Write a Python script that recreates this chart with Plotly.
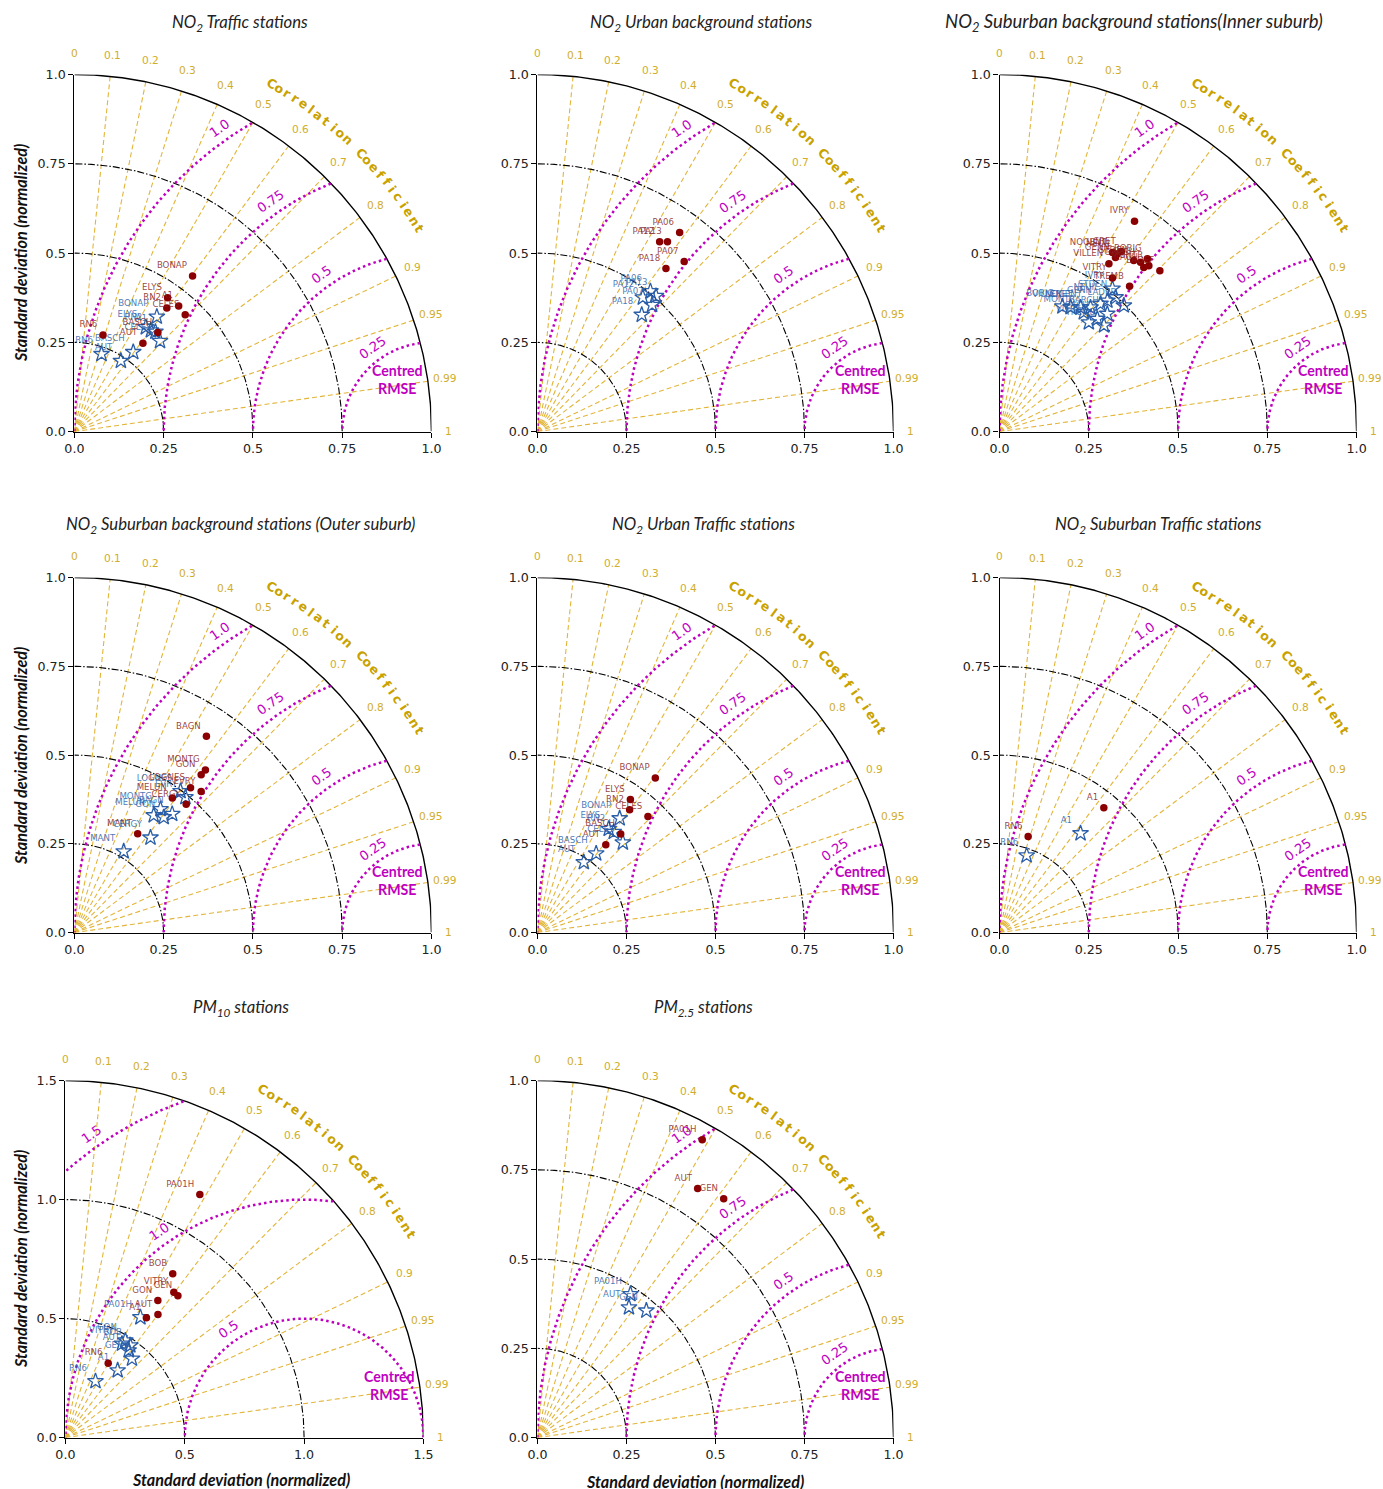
import numpy as np
import plotly.graph_objects as go

# target picture is 1383x1489. The page is photographed as
#   picture = A * page + B   (A ~ 0.9855 / 0.990, B ~ 9.6 / 7.4 px),
# so page positions are derived from wanted picture positions.
PW, PH = 1383, 1489
AX, BX = 0.9855, 9.6
AY, BY = 0.990, 7.4
W, H = 1394, 1497
FS = 1.012  # font compensation for the shrink

# ---------------- data ----------------
COR_LINES = [0.1, 0.2, 0.3, 0.4, 0.5, 0.6, 0.7, 0.8, 0.9, 0.95, 0.99]
COR_TICK_VALUES = [0, 0.1, 0.2, 0.3, 0.4, 0.5, 0.6, 0.7, 0.8, 0.9, 0.95, 0.99, 1]
COR_TICK_TEXT = ["0", "0.1", "0.2", "0.3", "0.4", "0.5", "0.6", "0.7", "0.8",
                 "0.9", "0.95", "0.99", "1"]
COR_TITLE = "Correlation Coefficient"

STD_TICKS_1 = [0.0, 0.25, 0.5, 0.75, 1.0]
STD_TICK_TEXT_1 = ["0.0", "0.25", "0.5", "0.75", "1.0"]
RMSE_LEVELS_1 = [0.25, 0.5, 0.75, 1.0]
RMSE_TEXT_1 = ["0.25", "0.5", "0.75", "1.0"]

STD_TICKS_15 = [0.0, 0.5, 1.0, 1.5]
STD_TICK_TEXT_15 = ["0.0", "0.5", "1.0", "1.5"]
RMSE_LEVELS_15 = [0.5, 1.0, 1.5]
RMSE_TEXT_15 = ["0.5", "1.0", "1.5"]

TITLES = [
    "NO<sub>2</sub> Traffic stations",
    "NO<sub>2</sub> Urban background stations",
    "NO<sub>2</sub> Suburban background stations(Inner suburb)",
    "NO<sub>2</sub> Suburban background stations (Outer suburb)",
    "NO<sub>2</sub> Urban Traffic stations",
    "NO<sub>2</sub> Suburban Traffic stations",
    "PM<sub>10</sub> stations",
    "PM<sub>2.5</sub> stations",
]
AXIS_TITLE = "Standard deviation (normalized)"

# Panel 1 : NO2 traffic
P1_NAMES = ["BONAP", "ELYS", "RN2", "CELES", "BASCH", "AUT", "RN6", "A1"]
P1_RED_STD = [0.547, 0.457, 0.432, 0.451, 0.363, 0.313, 0.282, 0.457]
P1_RED_COR = [0.605, 0.571, 0.599, 0.688, 0.644, 0.613, 0.284, 0.639]
P1_BLUE_STD = [0.396, 0.354, 0.355, 0.349, 0.277, 0.237, 0.230, 0.360]
P1_BLUE_COR = [0.583, 0.565, 0.603, 0.687, 0.595, 0.549, 0.330, 0.630]

# Panel 2 : NO2 urban background
P2_NAMES = ["PA06", "PA12", "PA13", "PA07", "PA18"]
P2_RED_STD = [0.686, 0.633, 0.645, 0.630, 0.582]
P2_RED_COR = [0.582, 0.542, 0.566, 0.654, 0.620]
P2_BLUE_STD = [0.505, 0.478, 0.505, 0.479, 0.439]
P2_BLUE_COR = [0.628, 0.619, 0.659, 0.672, 0.667]

# Panel 3 : NO2 suburban background (inner suburb)
P3_NAMES = ["IVRY", "NOGENT", "CRET", "NEUIL", "GENN", "VILLEN", "STDEN",
            "GARCH", "BOBIG", "MONTR", "CACH", "LADEF", "VITRY", "TREMB"]
P3_RED_STD = [0.700, 0.593, 0.609, 0.597, 0.586, 0.561, 0.609,
              0.617, 0.637, 0.625, 0.612, 0.636, 0.534, 0.546]
P3_RED_COR = [0.540, 0.533, 0.560, 0.552, 0.554, 0.546, 0.617,
              0.640, 0.650, 0.669, 0.660, 0.706, 0.592, 0.667]
P3_BLUE_STD = [0.510, 0.431, 0.415, 0.475, 0.456, 0.401, 0.497,
               0.447, 0.392, 0.409, 0.418, 0.496, 0.395, 0.417]
P3_BLUE_COR = [0.620, 0.591, 0.547, 0.636, 0.620, 0.496, 0.654,
               0.675, 0.449, 0.577, 0.655, 0.702, 0.633, 0.701]

# Panel 4 : NO2 suburban background (outer suburb)
P4_NAMES = ["BAGN", "MONTG", "GON", "LOGNES", "EVRY", "MELUN", "CERGY", "MANT"]
P4_RED_STD = [0.665, 0.587, 0.569, 0.522, 0.533, 0.468, 0.478, 0.330]
P4_RED_COR = [0.556, 0.625, 0.624, 0.623, 0.666, 0.586, 0.655, 0.537]
P4_BLUE_STD = [0.432, 0.423, 0.410, 0.497, 0.492, 0.398, 0.342, 0.267]
P4_BLUE_COR = [0.634, 0.570, 0.610, 0.598, 0.632, 0.558, 0.623, 0.517]

# Panel 5 : NO2 urban traffic
P5_NAMES = ["BONAP", "ELYS", "RN2", "CELES", "BASCH", "AUT"]
P5_RED_STD = [0.547, 0.457, 0.432, 0.451, 0.363, 0.313]
P5_RED_COR = [0.605, 0.571, 0.599, 0.688, 0.644, 0.613]
P5_BLUE_STD = [0.396, 0.354, 0.355, 0.349, 0.277, 0.237]
P5_BLUE_COR = [0.583, 0.565, 0.603, 0.687, 0.595, 0.549]

# Panel 6 : NO2 suburban traffic
P6_NAMES = ["RN6", "A1"]
P6_RED_STD = [0.282, 0.457]
P6_RED_COR = [0.284, 0.639]
P6_BLUE_STD = [0.230, 0.360]
P6_BLUE_COR = [0.330, 0.630]

# Panel 7 : PM10
P7_NAMES = ["PA01H", "BOB", "VITRY", "GEN", "GON", "AUT", "A1", "RN6"]
P7_RED_STD = [1.166, 0.822, 0.761, 0.760, 0.694, 0.646, 0.607, 0.360]
P7_RED_COR = [0.483, 0.547, 0.597, 0.620, 0.558, 0.600, 0.559, 0.498]
P7_BLUE_STD = [0.595, 0.473, 0.460, 0.433, 0.479, 0.452, 0.357, 0.268]
P7_BLUE_COR = [0.528, 0.575, 0.515, 0.644, 0.524, 0.586, 0.613, 0.470]

# Panel 8 : PM2.5
P8_NAMES = ["PA01H", "AUT", "GEN"]
P8_RED_STD = [0.954, 0.830, 0.849]
P8_RED_COR = [0.485, 0.542, 0.616]
P8_BLUE_STD = [0.479, 0.446, 0.469]
P8_BLUE_COR = [0.545, 0.576, 0.652]

DATA = [
    (P1_NAMES, P1_RED_STD, P1_RED_COR, P1_BLUE_STD, P1_BLUE_COR),
    (P2_NAMES, P2_RED_STD, P2_RED_COR, P2_BLUE_STD, P2_BLUE_COR),
    (P3_NAMES, P3_RED_STD, P3_RED_COR, P3_BLUE_STD, P3_BLUE_COR),
    (P4_NAMES, P4_RED_STD, P4_RED_COR, P4_BLUE_STD, P4_BLUE_COR),
    (P5_NAMES, P5_RED_STD, P5_RED_COR, P5_BLUE_STD, P5_BLUE_COR),
    (P6_NAMES, P6_RED_STD, P6_RED_COR, P6_BLUE_STD, P6_BLUE_COR),
    (P7_NAMES, P7_RED_STD, P7_RED_COR, P7_BLUE_STD, P7_BLUE_COR),
    (P8_NAMES, P8_RED_STD, P8_RED_COR, P8_BLUE_STD, P8_BLUE_COR),
]

# ---------------- layout / style ----------------
# plot boxes in picture pixels: left, right, top, bottom
BOXES = [
    (74, 431, 74, 431), (537, 893, 74, 431), (999, 1356, 74, 431),
    (74, 431, 577, 932), (537, 893, 577, 932), (999, 1356, 577, 932),
    (65, 423, 1080, 1437), (537, 893, 1080, 1437),
]
TITLE_POS = [(240, 22), (700, 22), (1133, 22), (240, 524), (703, 524),
             (1158, 524), (241, 1007), (703, 1007)]
TITLE_SIZE = [16.5, 16.5, 18.3, 16.5, 16.5, 16.5, 16.5, 16.5]
YTITLE_POS = {0: (20, 252), 3: (20, 755), 6: (20, 1258)}
XTITLE_POS = {6: (241, 1479), 7: (694, 1481)}

GOLD = "#e2b53a"
GOLD_TXT = "#d0ae2c"
GOLD_TITLE = "#c9a200"
MAG = "#bf00bf"
RED = "#8b0000"
RED_TXT = "rgba(135,28,28,0.85)"
BLUE = "#2a5ea8"
BLUE_TXT = "rgba(45,95,170,0.85)"

fig = go.Figure()
annotations = []


def px_x(px):
    return ((px - BX) / AX) / W


def px_y(py):
    return 1 - ((py - BY) / AY) / H


def data_to_paper(i, xd, yd, s):
    l, r, t, b = BOXES[i]
    return px_x(l + xd / s * (r - l)), px_y(b - yd / s * (b - t))


for i, (names, rs, rc, bs, bc) in enumerate(DATA):
    n = i + 1
    xr = "x" if n == 1 else f"x{n}"
    yr = "y" if n == 1 else f"y{n}"
    big = (i == 6)
    s = 1.5 if big else 1.0
    ticks = STD_TICKS_15 if big else STD_TICKS_1
    ticktext = STD_TICK_TEXT_15 if big else STD_TICK_TEXT_1
    rms = RMSE_LEVELS_15 if big else RMSE_LEVELS_1
    rmstxt = RMSE_TEXT_15 if big else RMSE_TEXT_1

    # correlation rays
    lx, ly = [], []
    for c in COR_LINES:
        lx += [0, s * c, None]
        ly += [0, s * np.sqrt(1 - c * c), None]
    fig.add_trace(go.Scatter(x=lx, y=ly, mode="lines", xaxis=xr, yaxis=yr,
                             line=dict(color=GOLD, width=1.1, dash="5px,3px"),
                             hoverinfo="skip", showlegend=False))
    # std arcs
    t = np.radians(np.linspace(0, 90, 200))
    for r in ticks[1:]:
        solid = abs(r - s) < 1e-9
        fig.add_trace(go.Scatter(
            x=r * np.cos(t), y=r * np.sin(t), mode="lines", xaxis=xr, yaxis=yr,
            line=dict(color="black", width=1.4 if solid else 1.1,
                      dash="solid" if solid else "7px,2px,1.5px,2px"),
            hoverinfo="skip", showlegend=False))
    # RMSE arcs
    tt = np.linspace(0, np.pi, 600)
    for R in rms:
        ax_ = 1 + R * np.cos(tt)
        ay_ = R * np.sin(tt)
        m = (ax_ >= 0) & (ax_ ** 2 + ay_ ** 2 <= s * s)
        fig.add_trace(go.Scatter(
            x=ax_[m], y=ay_[m], mode="lines", xaxis=xr, yaxis=yr,
            line=dict(color=MAG, width=2.5, dash="2.5px,3.1px"),
            hoverinfo="skip", showlegend=False))
    # points
    bs_a, bc_a = np.array(bs), np.array(bc)
    rs_a, rc_a = np.array(rs), np.array(rc)
    fig.add_trace(go.Scatter(
        x=bs_a * bc_a, y=bs_a * np.sqrt(1 - bc_a ** 2), mode="markers+text",
        text=names, textposition="top left", xaxis=xr, yaxis=yr,
        textfont=dict(family="DejaVu Sans", size=8.5 * FS, color=BLUE_TXT),
        marker=dict(symbol="star-open", size=12, color=BLUE,
                    line=dict(color=BLUE, width=1.3)),
        hoverinfo="skip", showlegend=False))
    fig.add_trace(go.Scatter(
        x=rs_a * rc_a, y=rs_a * np.sqrt(1 - rc_a ** 2), mode="markers+text",
        text=names, textposition="top left", xaxis=xr, yaxis=yr,
        textfont=dict(family="DejaVu Sans", size=8.5 * FS, color=RED_TXT),
        marker=dict(symbol="circle", size=7.5, color=RED),
        hoverinfo="skip", showlegend=False))

    # axes
    l, r_, tp, bt = BOXES[i]
    axcommon = dict(range=[0, s], tickvals=ticks, ticktext=ticktext,
                    showgrid=False, zeroline=False, showline=True,
                    linecolor="black", linewidth=1.3, ticks="outside",
                    ticklen=5, tickwidth=1.2, tickcolor="black",
                    tickfont=dict(family="DejaVu Sans", size=12.5 * FS, color="#222"),
                    fixedrange=True)
    fig.layout["xaxis" if n == 1 else f"xaxis{n}"] = dict(
        domain=[px_x(l), px_x(r_)], anchor=yr, **axcommon)
    fig.layout["yaxis" if n == 1 else f"yaxis{n}"] = dict(
        domain=[px_y(bt), px_y(tp)], anchor=xr, **axcommon)

    # correlation tick labels
    for v, txt in zip(COR_TICK_VALUES, COR_TICK_TEXT):
        ang = np.arccos(v)
        rl = (1.047 + 0.013 * np.sin(ang)) * s
        ppx, ppy = data_to_paper(i, rl * np.cos(ang), rl * np.sin(ang), s)
        annotations.append(dict(
            x=ppx, y=ppy, xref="paper", yref="paper",
            text=txt, showarrow=False, xanchor="center", yanchor="middle",
            font=dict(family="DejaVu Sans", size=10.5 * FS, color=GOLD_TXT)))
    # curved "Correlation Coefficient"
    for k, ch in enumerate(COR_TITLE):
        if ch == " ":
            continue
        th = 60.5 - k * 1.364
        a = np.radians(th)
        ppx, ppy = data_to_paper(i, 1.12 * s * np.cos(a), 1.12 * s * np.sin(a), s)
        annotations.append(dict(
            x=ppx, y=ppy, xref="paper", yref="paper",
            text=f"<b>{ch}</b>", showarrow=False, textangle=90 - th,
            xanchor="center", yanchor="middle",
            font=dict(family="DejaVu Sans", size=12.5 * FS, color=GOLD_TITLE)))
    # RMSE labels
    for R, txt in zip(rms, rmstxt):
        d = R + 0.037 * s
        a = np.radians(125)
        ppx, ppy = data_to_paper(i, 1 + d * np.cos(a), d * np.sin(a), s)
        annotations.append(dict(
            x=ppx, y=ppy, xref="paper", yref="paper",
            text=txt, showarrow=False, textangle=-35,
            xanchor="center", yanchor="middle",
            font=dict(family="DejaVu Sans", size=13 * FS, color=MAG)))
    ppx, ppy = data_to_paper(i, 0.906 * s, 0.146 * s, s)
    annotations.append(dict(
        x=ppx, y=ppy, xref="paper", yref="paper",
        text="<b>Centred</b><br><b>RMSE</b>", showarrow=False,
        xanchor="center", yanchor="middle", align="center",
        font=dict(family="Lato", size=14 * FS, color=MAG)))

    # panel title
    tx, ty = TITLE_POS[i]
    annotations.append(dict(
        x=px_x(tx), y=px_y(ty), xref="paper", yref="paper",
        text=f"<i>{TITLES[i]}</i>", showarrow=False,
        xanchor="center", yanchor="middle",
        font=dict(family="Lato", size=TITLE_SIZE[i] * FS, color="#222")))
    if i in YTITLE_POS:
        yx, yy = YTITLE_POS[i]
        annotations.append(dict(
            x=px_x(yx), y=px_y(yy), xref="paper", yref="paper",
            text=f"<b><i>{AXIS_TITLE}</i></b>", showarrow=False, textangle=-90,
            xanchor="center", yanchor="middle",
            font=dict(family="Lato", size=16 * FS, color="#111")))
    if i in XTITLE_POS:
        xx, xy = XTITLE_POS[i]
        annotations.append(dict(
            x=px_x(xx), y=px_y(xy), xref="paper", yref="paper",
            text=f"<b><i>{AXIS_TITLE}</i></b>", showarrow=False,
            xanchor="center", yanchor="middle",
            font=dict(family="Lato", size=16 * FS, color="#111")))

fig.update_layout(
    width=W, height=H, margin=dict(l=0, r=0, t=0, b=0),
    paper_bgcolor="white", plot_bgcolor="white",
    annotations=annotations, showlegend=False,
)

fig.write_html("out.html", config={"displayModeBar": False},
               post_script="document.body.style.margin='0px';")
